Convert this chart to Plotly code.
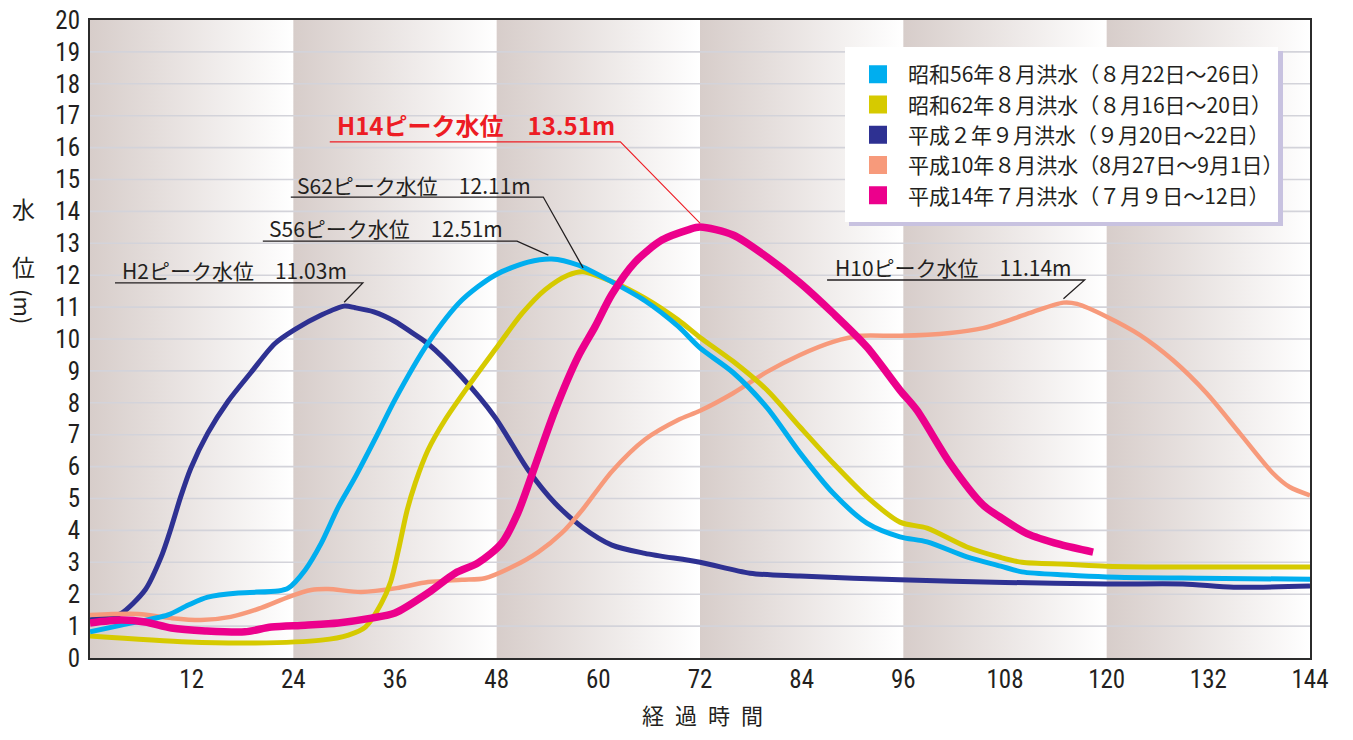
import numpy as np
import plotly.graph_objects as go

# ---------------- data ----------------
x_ticks = [12, 24, 36, 48, 60, 72, 84, 96, 108, 120, 132, 144]
y_ticks = list(range(0, 21))
band_edges = [0, 24, 48, 72, 96, 120, 144]

s56_t = [0, 3.7, 9.2, 11.6, 13.9, 17.5, 22.2, 23.4, 25.4, 27.3, 29.3, 31.3, 34.0, 36.0, 39.9, 43.9, 47.8, 51.7,
         54.5, 57.6, 61.6, 65.5, 69.4, 72.0, 75.9, 79.9, 83.8, 87.7, 91.7, 95.6, 98.8, 103.5, 107.5, 110.0,
         115.3, 120.0, 131.0, 144.0]
s56_v = [0.82, 1.03, 1.35, 1.66, 1.91, 2.04, 2.1, 2.19, 2.76, 3.6, 4.73, 5.67, 7.05, 8.1, 9.87, 11.22, 12.0, 12.41,
         12.51, 12.32, 11.79, 11.2, 10.4, 9.72, 8.95, 7.85, 6.43, 5.17, 4.23, 3.8, 3.64, 3.17, 2.88, 2.7,
         2.6, 2.54, 2.5, 2.47]

s62_t = [0, 11.6, 19.5, 27.3, 30.5, 32.5, 34.4, 35.5, 36.5, 37.4, 38.4, 39.9, 41.9, 44.6, 47.8, 51.0, 53.7, 56.4,
         58.2, 61.6, 65.5, 69.4, 72.0, 75.9, 79.9, 83.8, 87.7, 91.7, 95.6, 98.8, 103.5, 107.5, 110.0, 115.3,
         120.0, 129.0, 144.0]
s62_v = [0.69, 0.5, 0.47, 0.56, 0.72, 0.97, 1.72, 2.4, 3.5, 4.6, 5.49, 6.52, 7.46, 8.5, 9.66, 10.8, 11.54, 12.0,
         12.11, 11.8, 11.28, 10.6, 10.05, 9.3, 8.4, 7.24, 6.11, 5.05, 4.26, 4.07, 3.48, 3.15, 3.0, 2.94,
         2.88, 2.85, 2.85]

h2_t = [0, 2.5, 3.7, 6.5, 8.4, 9.6, 10.7, 11.9, 13.9, 16.3, 19.0, 21.8, 24.2, 27.3, 30.0, 31.3, 33.5, 36.0,
        38.0, 39.9, 43.9, 47.8, 51.7, 54.9, 58.1, 61.6, 65.5, 72.0, 77.9, 83.8, 95.6, 108.0, 120.0, 129.0,
        135.0, 144.0]
h2_v = [1.2, 1.3, 1.4, 2.13, 3.17, 4.1, 5.05, 5.95, 7.05, 8.05, 8.95, 9.85, 10.3, 10.75, 11.03, 10.98, 10.85, 10.55,
        10.2, 9.85, 8.8, 7.55, 5.9, 4.85, 4.1, 3.54, 3.28, 3.0, 2.66, 2.57, 2.45, 2.37, 2.32, 2.32,
        2.22, 2.26]

h10_t = [0, 5.7, 9.6, 13.1, 16.6, 20.2, 23.4, 26.1, 28.1, 32.0, 36.2, 39.9, 43.9, 46.6, 49.8, 52.9, 55.7, 58.1,
         61.6, 65.5, 69.4, 72.0, 75.9, 79.9, 83.8, 87.7, 90.9, 95.6, 101.5, 105.4, 108.6, 111.3, 114.9, 116.5,
         120.0, 123.9, 127.8, 131.8, 135.7, 139.6, 141.6, 144.0]
h10_v = [1.35, 1.38, 1.25, 1.19, 1.29, 1.57, 1.91, 2.13, 2.16, 2.07, 2.19, 2.38, 2.45, 2.5, 2.85, 3.32, 3.92, 4.64,
         5.85, 6.85, 7.46, 7.75, 8.3, 8.97, 9.5, 9.91, 10.1, 10.1, 10.19, 10.34, 10.6, 10.85, 11.14, 11.1,
         10.7, 10.13, 9.34, 8.3, 7.05, 5.8, 5.36, 5.1]

h14_t = [0, 3.7, 6.5, 9.6, 13.6, 18.3, 21.4, 25.4, 29.3, 33.2, 36.0, 39.9, 43.1, 45.8, 48.6, 50.5, 52.5, 54.9,
         57.6, 59.6, 61.6, 64.3, 67.5, 70.6, 72.0, 75.9, 79.9, 83.8, 87.7, 91.7, 95.6, 97.6, 101.5, 105.4,
         107.4, 110.6, 114.5, 118.4]
h14_v = [1.1, 1.19, 1.13, 0.94, 0.85, 0.82, 0.97, 1.03, 1.1, 1.25, 1.41, 2.04, 2.66, 2.98, 3.6, 4.55, 6.0, 7.77,
         9.44, 10.38, 11.4, 12.4, 13.1, 13.42, 13.51, 13.26, 12.57, 11.76, 10.81, 9.75, 8.4, 7.77, 6.11, 4.8,
         4.42, 3.9, 3.56, 3.32]

legend_labels = [
    "昭和56年８月洪水（８月22日～26日）",
    "昭和62年８月洪水（８月16日～20日）",
    "平成２年９月洪水（９月20日～22日）",
    "平成10年８月洪水（8月27日～9月1日）",
    "平成14年７月洪水（７月９日～12日）",
]

# ---------------- styles ----------------
COL = {"S56": "#00aeef", "S62": "#d6ca00", "H2": "#2e3192", "H10": "#f79a7b", "H14": "#ec008c"}
WID = {"S56": 5, "S62": 5, "H2": 5, "H10": 4.5, "H14": 7.5}
series = {"S56": (s56_t, s56_v), "S62": (s62_t, s62_v), "H2": (h2_t, h2_v),
          "H10": (h10_t, h10_v), "H14": (h14_t, h14_v)}
draw_order = ["H2", "H10", "S62", "S56", "H14"]

NUMF = "Liberation Sans Narrow, Roboto Condensed, DejaVu Sans Condensed, Noto Sans CJK JP, sans-serif"
JPF = "Liberation Sans Narrow, Noto Sans CJK JP, sans-serif"
TXT = "#231f20"

fig = go.Figure()

# background gradient bands
for a, b in zip(band_edges[:-1], band_edges[1:]):
    fig.add_trace(go.Scatter(
        x=[a, b, b, a, a], y=[0, 0, 20, 20, 0], mode="lines", fill="toself",
        line=dict(width=0, color="rgba(0,0,0,0)"),
        fillgradient=dict(type="horizontal", colorscale=[[0, "#d7cdca"], [1, "#ffffff"]], start=a, stop=b),
        hoverinfo="skip", showlegend=False))

# grid lines
gx, gy = [], []
for k in y_ticks[1:-1]:
    gx += [0, 144, None]
    gy += [k, k, None]
fig.add_trace(go.Scatter(x=gx, y=gy, mode="lines", line=dict(color="#d3d3da", width=1.6),
                         hoverinfo="skip", showlegend=False))

# data lines
for key in draw_order:
    t, v = series[key]
    fig.add_trace(go.Scatter(x=t, y=v, mode="lines",
                             line=dict(color=COL[key], width=WID[key], shape="spline", smoothing=0.8),
                             hoverinfo="skip", showlegend=False))

# legend entries (square swatches)
for key, lab in zip(["S56", "S62", "H2", "H10", "H14"], legend_labels):
    fig.add_trace(go.Scatter(x=[None], y=[None], mode="markers", name=lab,
                             marker=dict(symbol="square", size=16, color=COL[key],
                                         line=dict(color=COL[key], width=2))))

# peak labels
label_pos = {  # text left x, text y, underline y, underline start x
    "H14": (28.9, 16.71, 16.18, 28.3),
    "S62": (24.2, 14.83, 14.45, 23.7),
    "S56": (20.9, 13.48, 13.07, 20.4),
    "H2": (3.5, 12.16, 11.76, 2.95),
    "H10": (87.7, 12.26, 11.85, 87.0),
}
label_end = {"H14": 62.6, "S62": 53.5, "S56": 50.4, "H2": 32.2, "H10": 117.4}
shapes = []
annotations = []
for key in ["S56", "S62", "H2", "H10", "H14"]:
    t, v = series[key]
    i = int(np.argmax(v))
    pt, pv = t[i], v[i]
    tx, ty, uy, ux0 = label_pos[key]
    ux1 = label_end[key]
    red = key == "H14"
    color = "#ed1c24" if red else TXT
    annotations.append(dict(
        x=tx, y=ty, xref="x", yref="y", xanchor="left", yanchor="middle", showarrow=False,
        text=(f"<b>{key}ピーク水位　{pv:.2f}m</b>" if red else f"{key}ピーク水位　{pv:.2f}m"),
        font=dict(size=24 if red else 21, color=color, family=JPF)))
    dx = -0.4 if key == "S56" else 0
    shapes.append(dict(type="path", xref="x", yref="y",
                       path=f"M {ux0},{uy} L {ux1},{uy} L {pt + dx},{pv + 0.12}",
                       line=dict(color=color, width=1.1 if red else 1.3)))

# page layout (the page body adds an 8px offset)
OFF = 8
L, R, T, B = 90, 1310, 20, 658
W, H = 1353 - 2 * OFF, 740 - 2 * OFF


def px(xp):
    return (xp - L) / (R - L)


def py(yp):
    return (B - yp) / (B - T)


# legend box + shadow
shapes.append(dict(type="rect", xref="paper", yref="paper", x0=px(849), x1=px(1283), y0=py(226), y1=py(51),
                   fillcolor="#c8c2e0", line=dict(width=0), layer="above"))
shapes.append(dict(type="rect", xref="paper", yref="paper", x0=px(845), x1=px(1278), y0=py(222), y1=py(47),
                   fillcolor="#ffffff", line=dict(width=0), layer="above"))

# axis titles
annotations.append(dict(x=px(702), y=py(731), xref="paper", yref="paper", showarrow=False,
                        text="経\u2002過\u2002時\u2002間", font=dict(size=22, color=TXT, family="Noto Sans CJK JP"),
                        xanchor="center", yanchor="bottom", borderpad=0))
for ch, yy in [("水", 208), ("位", 266)]:
    annotations.append(dict(x=px(23), y=py(yy), xref="paper", yref="paper", showarrow=False, text=ch,
                            font=dict(size=23, color=TXT, family="Noto Sans CJK JP"),
                            xanchor="center", yanchor="middle", borderpad=0))
annotations.append(dict(x=px(24), y=py(306), xref="paper", yref="paper", showarrow=False, text="(m)",
                        textangle=90, font=dict(size=22, color=TXT, family="Noto Sans CJK JP"),
                        xanchor="center", yanchor="middle", borderpad=0))

axis_common = dict(showgrid=False, zeroline=False, showline=True, linecolor="#2b2b2b", linewidth=2,
                   mirror=True, tickcolor="rgba(0,0,0,0)", ticklabeloverflow="allow", automargin=False,
                   tickfont=dict(size=25, color=TXT, family=NUMF))
fig.update_layout(
    width=W, height=H,
    margin=dict(l=L - OFF, r=(W + OFF) - R, t=T - OFF, b=(H + OFF) - B, autoexpand=False),
    paper_bgcolor="white", plot_bgcolor="white",
    xaxis=dict(range=[0, 144], tickvals=x_ticks, ticks="", ticklabelstandoff=-2, **axis_common),
    yaxis=dict(range=[0, 20], tickvals=y_ticks, ticks="outside", ticklen=3, **axis_common),
    showlegend=True,
    legend=dict(x=px(848), y=py(54), xanchor="left", yanchor="top", bgcolor="rgba(0,0,0,0)",
                borderwidth=0, itemwidth=50, traceorder="normal", itemclick=False, itemdoubleclick=False,
                font=dict(size=21, color=TXT, family=JPF)),
    shapes=shapes, annotations=annotations,
)

fig.write_html("out.html")
